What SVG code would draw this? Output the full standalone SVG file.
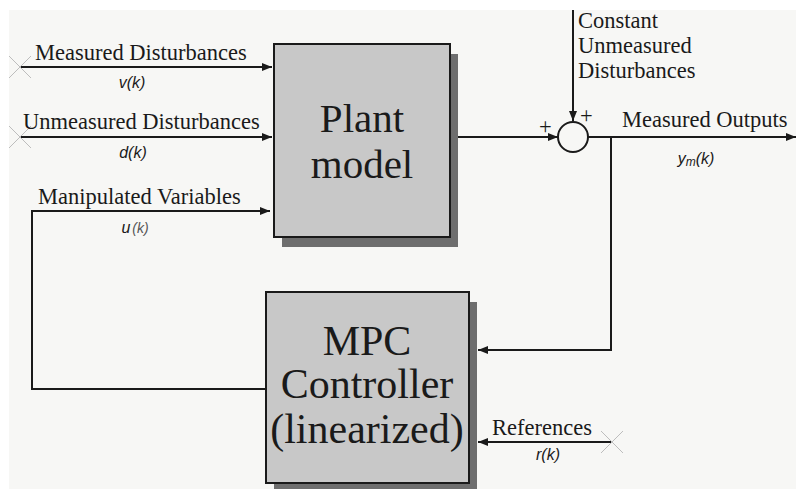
<svg xmlns="http://www.w3.org/2000/svg" width="796" height="489" viewBox="0 0 796 489">
<style>
.lbl{font-family:"Liberation Serif","Times New Roman",serif;font-size:22.5px;fill:#1a1a1a}
.big{font-family:"Liberation Serif","Times New Roman",serif;fill:#1a1a1a;text-anchor:middle}
.var{font-family:"Liberation Sans",Arial,sans-serif;font-style:italic;font-size:16px;fill:#1a1a1a;text-anchor:middle}
.ln{stroke:#1a1a1a;stroke-width:2;fill:none}
.x{stroke:#bdbdbd;stroke-width:1}
.box{fill:#c8c8c8;stroke:#1a1a1a;stroke-width:2}
.sh{fill:#6e6e6e}
</style>
<defs>
<marker id="ah" viewBox="0 0 10 8" refX="10" refY="4" markerWidth="10" markerHeight="8" markerUnits="userSpaceOnUse" orient="auto">
<path d="M0,0 L10,4 L0,8 Z" fill="#1a1a1a"/>
</marker>
</defs>
<rect width="796" height="489" fill="#ffffff"/>
<rect x="9" y="10" width="787" height="479" fill="#f7f7f5"/>

<g id="connectors">
<line class="ln" x1="20" y1="67" x2="272" y2="67" marker-end="url(#ah)"/>
<line class="ln" x1="20" y1="137" x2="272" y2="137" marker-end="url(#ah)"/>
<polyline class="ln" points="265,389 32,389 32,211 270,211" marker-end="url(#ah)"/>
<line class="ln" x1="451" y1="137" x2="558" y2="137" marker-end="url(#ah)"/>
<line class="ln" x1="573" y1="10" x2="573" y2="121" marker-end="url(#ah)"/>
<line class="ln" x1="588" y1="137" x2="796" y2="137" marker-end="url(#ah)"/>
<polyline class="ln" points="611,137 611,350 478,350" marker-end="url(#ah)"/>
<line class="ln" x1="612" y1="442" x2="478" y2="442" marker-end="url(#ah)"/>
<line class="x" x1="9" y1="56" x2="31" y2="78"/>
<line class="x" x1="9" y1="78" x2="31" y2="56"/>
<line class="x" x1="9" y1="126" x2="31" y2="148"/>
<line class="x" x1="9" y1="148" x2="31" y2="126"/>
<line class="x" x1="601" y1="431" x2="623" y2="453"/>
<line class="x" x1="601" y1="453" x2="623" y2="431"/>
</g>

<g id="label-measured-disturbances">
<text class="lbl" x="35" y="60">Measured Disturbances</text>
<text class="var" x="132" y="88">v(k)</text>
</g>
<g id="label-unmeasured-disturbances">
<text class="lbl" x="23" y="129">Unmeasured Disturbances</text>
<text class="var" x="133" y="158">d(k)</text>
</g>
<g id="label-manipulated-variables">
<text class="lbl" x="38" y="204">Manipulated Variables</text>
<text class="var" x="135" y="233">u<tspan dx="2" font-size="14" fill="#555">(k)</tspan></text>
</g>

<g id="plant">
<rect class="sh" x="282" y="54" width="176" height="193"/>
<rect class="box" x="274" y="44" width="176" height="193"/>
<text class="big" font-size="41" x="362" y="132">Plant</text>
<text class="big" font-size="41" x="362" y="178">model</text>
</g>

<g id="sum">
<circle cx="573" cy="137" r="15" fill="none" stroke="#1a1a1a" stroke-width="2"/>
<text class="lbl" font-size="20" x="539" y="134">+</text>
<text class="lbl" font-size="20" x="580" y="123">+</text>
</g>

<g id="label-constant">
<text class="lbl" x="578" y="28">Constant</text>
<text class="lbl" x="578" y="53">Unmeasured</text>
<text class="lbl" x="578" y="78">Disturbances</text>
</g>

<g id="label-outputs">
<text class="lbl" x="622" y="127">Measured Outputs</text>
<text class="var" font-size="17" x="696" y="164">y<tspan font-size="12" dy="2">m</tspan><tspan dy="-2">(k)</tspan></text>
</g>

<g id="mpc">
<rect class="sh" x="274" y="302" width="203" height="191"/>
<rect class="box" x="266" y="292" width="203" height="191"/>
<text class="big" font-size="42" x="367" y="355">MPC</text>
<text class="big" font-size="42" x="367" y="398">Controller</text>
<text class="big" font-size="42" x="367" y="443">(linearized)</text>
</g>

<g id="label-references">
<text class="lbl" x="492" y="435">References</text>
<text class="var" x="548" y="460">r(k)</text>
</g>
</svg>
